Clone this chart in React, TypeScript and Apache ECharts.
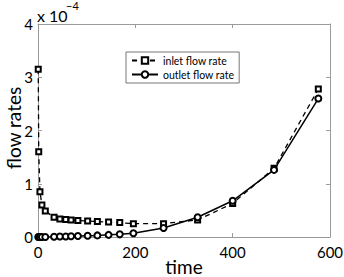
import React, { useEffect, useRef } from "react";
import * as echarts from "echarts";

const times = [0.5, 1.5, 4, 8, 15, 33, 45, 57, 68, 82, 102, 122, 145, 168, 196, 258, 328, 400, 485, 576];
const inletValues = [3.15, 1.6, 0.85, 0.6, 0.49, 0.37, 0.34, 0.33, 0.32, 0.31, 0.3, 0.29, 0.28, 0.27, 0.25, 0.25, 0.32, 0.63, 1.29, 2.78];
const outletValues = [0, 0, 0, 0, 0, 0.005, 0.01, 0.01, 0.015, 0.02, 0.025, 0.03, 0.04, 0.05, 0.07, 0.17, 0.37, 0.68, 1.26, 2.6];
const seriesNames = ["inlet flow rate", "outlet flow rate"];
const xTicks = { min: 0, max: 600, interval: 200 };
const yTicks = { min: 0, max: 4, interval: 1 };
const scaleLabel = { base: "x 10", exponent: "−4" };
const axisNames = { x: "time", y: "flow rates" };

const FONT = "Lato, 'Open Sans', sans-serif";
const AXIS_GRAY = "#9a9a9a";

export default function App() {
  const ref = useRef<HTMLDivElement>(null);
  useEffect(() => {
    if (!ref.current) return;
    const chart = echarts.init(ref.current, null, { renderer: "svg" });
    const axisCommon = {
      axisLine: { show: true, onZero: false, lineStyle: { color: AXIS_GRAY, width: 1 } },
      axisTick: { show: true, inside: true, length: 4, lineStyle: { color: AXIS_GRAY } },
      splitLine: { show: false },
    };
    chart.setOption({
      animation: false,
      backgroundColor: "#fff",
      textStyle: { fontFamily: FONT },
      grid: { left: 38, top: 24, right: 14, bottom: 40, outerBoundsMode: "none", containLabel: false },
      xAxis: [
        {
          type: "value",
          ...xTicks,
          ...axisCommon,
          axisLabel: { color: "#000", fontSize: 15, fontFamily: FONT, margin: 7 },
        },
        {
          type: "value",
          position: "top",
          ...xTicks,
          ...axisCommon,
          axisLabel: { show: false },
        },
      ],
      yAxis: [
        {
          type: "value",
          ...yTicks,
          ...axisCommon,
          axisLabel: { color: "#000", fontSize: 15, fontFamily: FONT, margin: 5 },
        },
        {
          type: "value",
          position: "right",
          ...yTicks,
          ...axisCommon,
          axisLabel: { show: false },
        },
      ],
      legend: {
        orient: "vertical",
        left: 126,
        top: 52,
        padding: [3, 5, 3, 5],
        itemGap: 3,
        itemWidth: 26,
        itemHeight: 8,
        borderColor: "#777",
        borderWidth: 1,
        backgroundColor: "#fff",
        textStyle: { color: "#000", fontSize: 10.5, fontFamily: FONT },
        data: seriesNames,
      },
      graphic: [
        {
          type: "text",
          x: 37,
          y: 15,
          style: {
            text: scaleLabel.base,
            font: "16px " + FONT,
            fill: "#000",
            verticalAlign: "middle",
          },
        },
        {
          type: "text",
          x: 66,
          y: 5,
          style: {
            text: scaleLabel.exponent,
            font: "11px " + FONT,
            fill: "#000",
            verticalAlign: "middle",
          },
        },
        {
          type: "text",
          x: 184,
          y: 266,
          style: {
            text: axisNames.x,
            font: "19px " + FONT,
            fill: "#000",
            align: "center",
            verticalAlign: "middle",
          },
        },
        {
          type: "text",
          x: 13,
          y: 128,
          rotation: Math.PI / 2,
          style: {
            text: axisNames.y,
            font: "19px " + FONT,
            fill: "#000",
            align: "center",
            verticalAlign: "middle",
          },
        },
      ],
      series: [
        {
          name: seriesNames[0],
          type: "line",
          data: times.map((t, i) => [t, inletValues[i]]),
          symbol: "emptyRect",
          symbolSize: 5,
          itemStyle: { color: "#000", borderWidth: 1.2 },
          lineStyle: { color: "#000", width: 1.3, type: [5, 4] },
          z: 2,
        },
        {
          name: seriesNames[1],
          type: "line",
          data: times.map((t, i) => [t, outletValues[i]]),
          symbol: "emptyCircle",
          symbolSize: 6,
          itemStyle: { color: "#000", borderWidth: 1.2 },
          lineStyle: { color: "#000", width: 1.5 },
          z: 3,
        },
      ],
    });
    return () => chart.dispose();
  }, []);
  return <div ref={ref} style={{ position: "fixed", left: 0, top: 0, width: 344, height: 277 }} />;
}
